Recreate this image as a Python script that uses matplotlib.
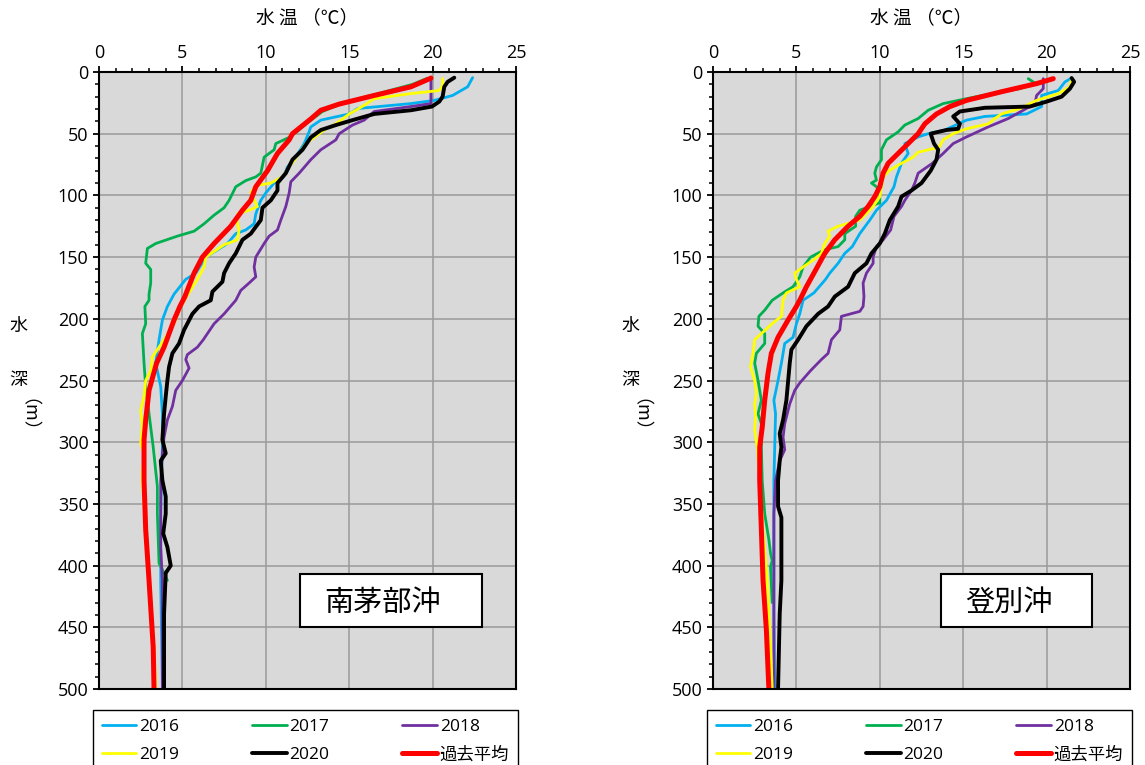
import matplotlib
matplotlib.use("Agg")
import matplotlib.pyplot as plt
from matplotlib.patches import Rectangle
from matplotlib.ticker import MultipleLocator

plt.rcParams['font.family'] = ['Open Sans', 'Noto Sans CJK JP', 'DejaVu Sans']

# ---------------- data: 南茅部沖 (left) ----------------
mk_2016_depth = [4.6, 12, 19, 23, 25.6, 29.6, 34, 39, 44.5, 50, 58, 69, 77, 85, 90, 98, 104, 115, 123, 128, 131, 139, 150, 163, 168, 180, 190, 201, 217, 236, 255, 277, 304, 358, 412, 500]
mk_2016_temp = [22.4, 22.1, 21.2, 20.1, 18.7, 15.5, 15.0, 13.3, 12.7, 12.55, 12.3, 11.8, 11.3, 11.05, 10.5, 10.0, 9.7, 9.4, 9.3, 8.8, 8.2, 7.7, 6.4, 5.8, 5.2, 4.5, 4.1, 3.8, 3.6, 3.4, 3.7, 3.8, 3.8, 3.7, 3.7, 3.8]

mk_2017_depth = [5, 10, 18, 25, 32, 40, 48, 53, 58, 63, 69, 82, 85, 88, 93, 104, 110, 116, 123, 129, 133, 139, 143, 155, 160, 171, 180, 185, 190, 204, 212, 236, 255, 277, 304, 336, 358, 398, 406, 412]
mk_2017_temp = [19.7, 18.8, 16.6, 14.6, 13.4, 12.6, 11.9, 11.4, 10.6, 10.5, 9.9, 9.7, 9.4, 8.8, 8.2, 7.8, 7.5, 6.9, 6.3, 5.7, 4.7, 3.4, 2.9, 2.8, 3.1, 3.1, 3.0, 3.0, 2.75, 2.8, 2.6, 2.7, 2.8, 3.0, 3.25, 3.5, 3.5, 3.6, 3.9, 4.1]

mk_2018_depth = [4, 25.6, 28, 32, 39, 43, 50, 55, 63, 71, 82, 89, 98, 109, 120, 128, 133, 139, 150, 158, 166, 171, 177, 185, 196, 204, 217, 223, 229, 233, 240, 250, 258, 271, 282, 296, 309, 331, 358, 385, 412, 500]
mk_2018_temp = [19.9, 19.9, 18.7, 16.5, 15.9, 15.2, 14.4, 14.2, 13.3, 12.7, 12.0, 11.5, 11.4, 11.2, 10.9, 10.7, 10.2, 9.9, 9.4, 9.3, 9.4, 9.0, 8.5, 8.2, 7.5, 6.9, 6.25, 5.9, 5.3, 5.2, 5.4, 5.0, 4.6, 4.4, 4.1, 3.9, 3.8, 3.7, 3.7, 3.7, 3.8, 3.8]

mk_2019_depth = [5.4, 11, 15, 17.5, 21.6, 27, 34, 42, 47, 53, 58, 66, 77, 85, 90, 92, 98, 104, 109, 112, 115, 123, 128, 136, 140, 150, 158, 168, 180, 190, 204, 217, 225, 231, 242, 250, 263, 274, 288, 301, 309, 325, 331, 371, 412, 466, 500]
mk_2019_temp = [20.6, 20.6, 20.4, 18.7, 16.5, 15.9, 15.0, 14.2, 13.5, 12.9, 12.4, 12.0, 11.4, 11.0, 10.3, 9.4, 9.1, 9.3, 9.5, 9.0, 8.3, 8.3, 8.4, 8.3, 7.5, 6.4, 6.3, 5.9, 5.35, 4.9, 4.5, 3.9, 3.5, 3.2, 3.1, 2.8, 2.7, 2.5, 2.6, 2.5, 2.7, 2.6, 2.6, 2.8, 3.0, 3.3, 3.4]

mk_2020_depth = [4.6, 8, 12, 20, 24, 28, 31, 34, 39, 43, 47, 53, 63, 71, 82, 90, 96, 104, 110, 120, 131, 136, 147, 155, 163, 170, 178, 185, 190, 196, 209, 220, 228, 239, 250, 263, 277, 298, 309, 315, 331, 344, 358, 374, 385, 400, 406, 439, 500]
mk_2020_temp = [21.3, 20.9, 20.7, 20.6, 20.4, 19.96, 18.7, 16.5, 15.2, 14.2, 13.3, 12.7, 12.2, 11.6, 11.2, 10.7, 10.7, 10.3, 9.8, 9.7, 9.1, 8.6, 8.2, 7.8, 7.5, 7.4, 6.8, 6.7, 6.0, 5.6, 5.1, 4.8, 4.4, 4.2, 4.1, 4.0, 3.9, 3.8, 4.0, 3.7, 3.8, 4.0, 4.0, 3.85, 4.1, 4.3, 4.0, 3.9, 3.9]

mk_avg_depth = [5, 12, 19, 26, 31, 38, 50, 55, 66, 80, 93, 104, 112, 125, 139, 150, 163, 175, 182, 190, 201, 212, 223, 236, 258, 282, 298, 331, 371, 412, 466, 500]
mk_avg_temp = [19.9, 18.7, 16.5, 14.4, 13.3, 12.7, 11.6, 11.4, 10.7, 10.1, 9.4, 9.1, 8.6, 7.9, 6.9, 6.2, 5.7, 5.35, 5.15, 4.85, 4.5, 4.2, 3.9, 3.45, 3.0, 2.8, 2.7, 2.7, 2.8, 3.0, 3.25, 3.3]

# ---------------- data: 登別沖 (right) ----------------
nb_2016_depth = [4.9, 8, 15, 19, 28, 34, 36, 39, 47, 50, 52.6, 58, 66, 74, 85, 93, 104, 112, 120, 131, 141.5, 147, 155, 163, 168, 179, 185, 196, 204, 215, 220, 236, 250, 266, 277, 304, 331, 385, 439, 500]
nb_2016_temp = [21.5, 21.1, 20.7, 19.7, 19.7, 18.8, 16.3, 15.2, 13.9, 12.9, 12.3, 11.5, 11.7, 11.3, 11.0, 10.85, 10.4, 9.8, 9.4, 8.8, 8.35, 7.9, 7.5, 7.0, 6.75, 6.05, 5.4, 5.2, 5.0, 4.8, 4.3, 4.1, 3.9, 3.65, 3.75, 3.7, 3.65, 3.65, 3.65, 3.7]

nb_2017_depth = [5.4, 9, 13.5, 16, 21.6, 25.6, 31, 37.7, 43, 48.5, 55, 63, 71, 77, 82, 87.6, 90, 93, 98, 106, 109, 112, 117, 125, 131, 136, 141.5, 144, 150, 158, 166, 174, 179, 185, 193, 198, 206, 212, 220, 228, 236, 250, 266, 277, 285, 304, 331, 358, 379, 390, 396, 401, 430]
nb_2017_temp = [18.9, 19.3, 18.4, 17.3, 15.2, 13.8, 12.9, 12.3, 11.5, 11.1, 10.4, 10.1, 10.1, 9.8, 9.7, 9.8, 9.5, 9.8, 10.0, 10.0, 9.4, 8.8, 8.55, 8.55, 7.9, 7.9, 7.5, 6.7, 5.85, 5.4, 5.2, 4.8, 4.2, 3.55, 3.1, 2.75, 2.7, 3.1, 3.1, 2.6, 2.5, 2.7, 2.9, 2.7, 2.9, 2.9, 2.95, 3.1, 3.35, 3.45, 3.55, 3.45, 3.55]

nb_2018_depth = [5.4, 13.5, 19, 25.6, 31, 37.7, 44.5, 52.6, 58, 66, 74, 82, 90, 96, 104, 109, 117, 128, 136, 141.5, 150, 155, 163, 171, 182, 190, 194, 198, 209, 217, 228, 233, 242, 252, 258, 269, 285, 296, 306, 315, 331, 358, 439, 500]
nb_2018_temp = [19.8, 19.8, 19.4, 19.3, 18.6, 17.7, 16.5, 15.2, 14.4, 13.8, 13.15, 12.3, 12.1, 11.9, 11.5, 11.3, 10.85, 10.65, 10.2, 9.8, 9.6, 9.6, 9.2, 9.0, 9.05, 9.0, 8.8, 7.7, 7.6, 7.1, 6.9, 6.5, 5.85, 5.2, 4.9, 4.6, 4.3, 4.2, 4.3, 4.0, 3.75, 3.65, 3.65, 3.65]

nb_2019_depth = [4.9, 12, 17.5, 23, 29.6, 34, 37.7, 42, 46, 50, 55, 61, 65, 69, 74, 79.5, 85, 93, 101, 109, 114.6, 120, 125, 129, 133, 139, 147, 152, 158, 163, 168, 174, 176.5, 179, 185, 198, 204, 212, 217, 228, 239, 250, 260, 269, 279, 290, 304, 312, 331, 371, 412, 466, 500]
nb_2019_temp = [21.5, 21.4, 20.7, 19.4, 18.4, 17.3, 16.9, 16.5, 15.2, 14.4, 13.8, 13.55, 12.3, 12.0, 11.3, 10.6, 10.2, 10.1, 10.0, 9.6, 9.2, 8.8, 7.5, 6.9, 7.0, 6.7, 6.5, 6.05, 5.4, 4.9, 5.0, 5.2, 4.8, 4.4, 4.2, 4.1, 3.55, 2.9, 2.5, 2.4, 2.25, 2.5, 2.6, 2.5, 2.55, 2.5, 2.65, 2.7, 2.8, 3.0, 3.25, 3.45, 3.55]

nb_2020_depth = [4.9, 8, 13.5, 20, 24, 28, 29, 32, 36, 42, 46, 47, 50, 58, 63, 71, 80, 90, 96, 101, 109, 120, 131, 139, 147, 155, 163, 174, 182, 190, 196, 206, 217, 225, 236, 266, 282, 293, 304, 315, 331, 352, 361, 385, 412, 439, 500]
nb_2020_temp = [21.5, 21.65, 21.4, 20.9, 20.0, 19.0, 16.3, 14.8, 14.4, 14.8, 14.7, 14.0, 13.05, 13.25, 13.5, 13.4, 13.05, 12.5, 11.9, 11.3, 11.1, 10.6, 10.3, 10.0, 9.5, 9.2, 8.5, 8.1, 7.3, 6.9, 6.3, 5.6, 5.1, 4.7, 4.6, 4.4, 4.2, 4.0, 4.1, 4.0, 3.9, 3.9, 4.1, 4.1, 4.1, 4.0, 3.9]

nb_avg_depth = [5.4, 9.4, 16, 23, 28, 34, 42, 50, 58, 66, 74, 82, 93, 101, 109, 117, 125, 136, 147, 163, 174, 185, 190, 201, 215, 228, 244, 266, 288, 304, 331, 371, 412, 452, 500]
nb_avg_temp = [20.4, 19.4, 17.3, 15.2, 14.2, 13.4, 12.7, 12.3, 11.7, 11.1, 10.5, 10.2, 10.0, 9.7, 9.3, 8.8, 8.1, 7.3, 6.7, 6.05, 5.6, 5.2, 5.0, 4.5, 3.9, 3.5, 3.3, 3.1, 2.95, 2.8, 2.8, 2.9, 3.0, 3.2, 3.35]

series_labels = ['2016', '2017', '2018', '2019', '2020', '過去平均']
series_colors = ['#00B0F0', '#00B050', '#7030A0', '#FFFF00', '#000000', '#FF0000']
series_widths = [2.0, 2.0, 2.0, 2.0, 2.8, 3.6]

station_names = ['南茅部沖', '登別沖']
xlabel_text = '水 温 （℃）'

stations = [
    [(mk_2016_temp, mk_2016_depth), (mk_2017_temp, mk_2017_depth), (mk_2018_temp, mk_2018_depth),
     (mk_2019_temp, mk_2019_depth), (mk_2020_temp, mk_2020_depth), (mk_avg_temp, mk_avg_depth)],
    [(nb_2016_temp, nb_2016_depth), (nb_2017_temp, nb_2017_depth), (nb_2018_temp, nb_2018_depth),
     (nb_2019_temp, nb_2019_depth), (nb_2020_temp, nb_2020_depth), (nb_avg_temp, nb_avg_depth)],
]

W, H = 1145, 765
fig = plt.figure(figsize=(W / 100, H / 100), dpi=100)

ax_lefts = [99, 713]
ax_top, ax_bot = 72, 689
ax_w = 417
box_x = [(300, 482), (941, 1092)]
ylab_x = [18, 630]

cjk = ['Noto Sans CJK JP', 'DejaVu Sans']

for i, (axl, data) in enumerate(zip(ax_lefts, stations)):
    ax = fig.add_axes([axl / W, 1 - ax_bot / H, ax_w / W, (ax_bot - ax_top) / H])
    ax.set_facecolor('#D9D9D9')
    handles = []
    for (t, d), lab, c, lw in zip(data, series_labels, series_colors, series_widths):
        h, = ax.plot(t, d, color=c, lw=lw, label=lab, solid_capstyle='round', solid_joinstyle='round')
        handles.append(h)
    ax.set_xlim(0, 25)
    ax.set_ylim(500, 0)
    ax.xaxis.tick_top()
    ax.xaxis.set_major_locator(MultipleLocator(5))
    ax.xaxis.set_minor_locator(MultipleLocator(1))
    ax.yaxis.set_major_locator(MultipleLocator(50))
    ax.yaxis.set_minor_locator(MultipleLocator(10))
    ax.grid(which='major', color='#9A9A9A', lw=1.1)
    ax.set_axisbelow(True)
    ax.tick_params(which='major', length=4.5, width=1.3, labelsize=13, pad=3)
    ax.tick_params(which='minor', length=3, width=1.1)
    ax.tick_params(axis='x', which='both', top=True, bottom=False)
    for s in ax.spines.values():
        s.set_linewidth(1.5)
        s.set_color('black')

    # station label box
    bx0, bx1 = box_x[i]
    by0, by1 = 574, 627
    rect = Rectangle(((bx0 - axl) / ax_w, (ax_bot - by1) / (ax_bot - ax_top)),
                     (bx1 - bx0) / ax_w, (by1 - by0) / (ax_bot - ax_top),
                     transform=ax.transAxes, facecolor='white', edgecolor='black', lw=1.5, zorder=5)
    ax.add_patch(rect)
    ax.text(((bx0 + bx1) / 2 - 8 - axl) / ax_w, (ax_bot - 603) / (ax_bot - ax_top), station_names[i],
            transform=ax.transAxes, ha='center', va='center', fontsize=21, family=cjk, zorder=6)

    # axis title
    fig.text((axl + ax_w / 2) / W, 1 - 18 / H, xlabel_text, ha='center', va='center', fontsize=13.5, family=cjk)
    # vertical y label
    yx = ylab_x[i] / W
    fig.text(yx, 1 - 326 / H, '水', ha='center', va='center', fontsize=13, family=cjk)
    fig.text(yx, 1 - 380 / H, '深', ha='center', va='center', fontsize=13, family=cjk)
    fig.text(yx, 1 - 424 / H, '（m）', ha='center', va='center', fontsize=13, family=cjk, rotation=-90)

    # legend (row-wise order)
    order = [0, 3, 1, 4, 2, 5]
    leg = ax.legend([handles[k] for k in order], [series_labels[k] for k in order],
                    ncol=3, loc='upper left',
                    bbox_to_anchor=((axl - 6) / W, 1 - 710 / H, (ax_w + 8) / W, 0.0),
                    bbox_transform=fig.transFigure, mode='expand', borderaxespad=0,
                    frameon=True, fancybox=False, edgecolor='black', framealpha=1,
                    handlelength=2.0, handletextpad=0.15, columnspacing=1.0,
                    labelspacing=0.7, borderpad=0.5,
                    prop={'family': ['Open Sans', 'Noto Sans CJK JP'], 'size': 12.5})
    leg.get_frame().set_linewidth(1.0)
    leg.set_clip_on(False)

fig.savefig('out.png', dpi=100)
